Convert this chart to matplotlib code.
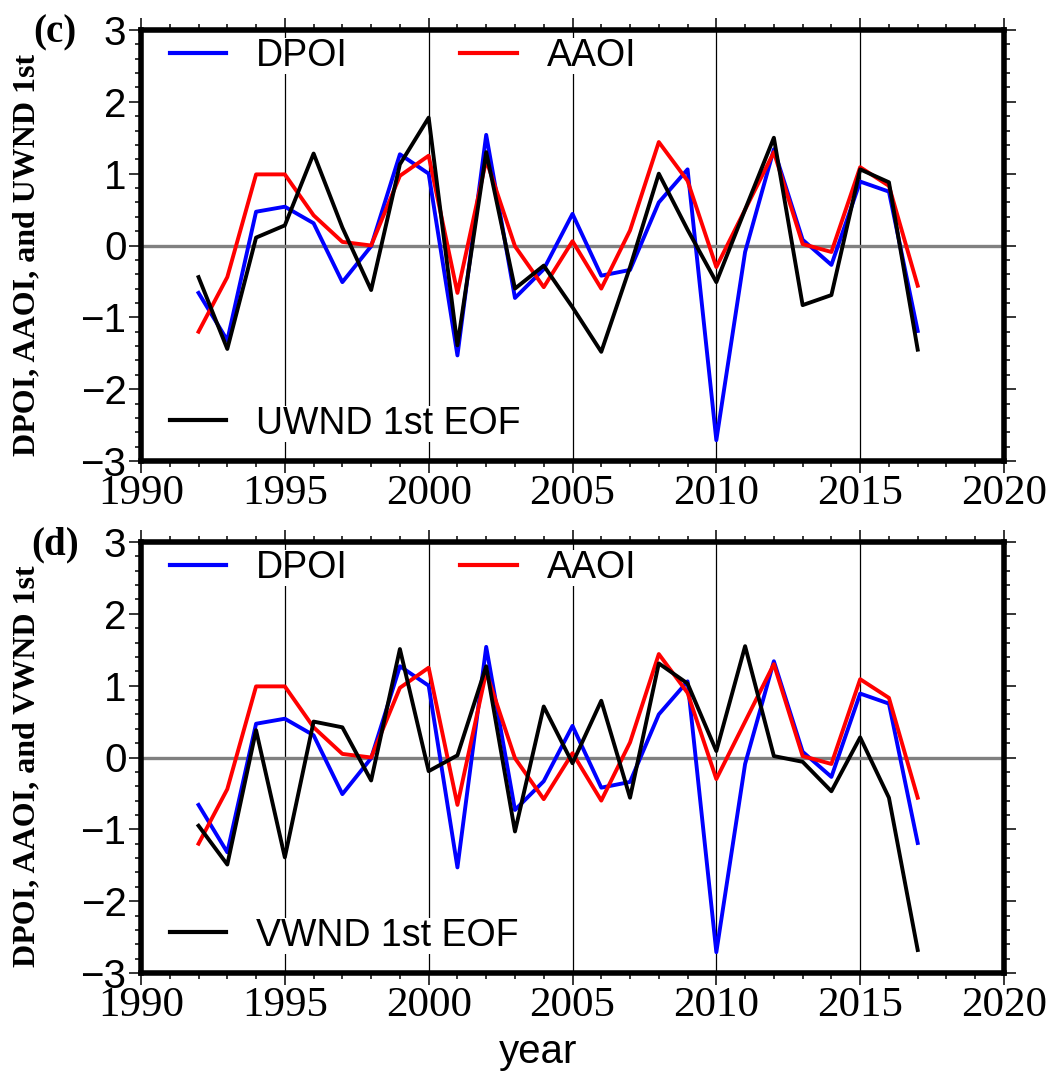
import numpy as np
import matplotlib
matplotlib.use('Agg')
import matplotlib.pyplot as plt
from matplotlib.ticker import MultipleLocator
from matplotlib.lines import Line2D

# yearly index values
years = np.arange(1992, 2018)
dpoi = [-0.66, -1.32, 0.47, 0.54, 0.31, -0.51, -0.01, 1.27, 1.00, -1.53, 1.54, -0.73, -0.33,
        0.44, -0.42, -0.34, 0.60, 1.06, -2.71, -0.09, 1.34, 0.08, -0.27, 0.89, 0.75, -1.19]
aaoi = [-1.20, -0.44, 0.99, 0.99, 0.42, 0.05, 0.00, 0.97, 1.25, -0.66, 1.19, -0.01, -0.58,
        0.06, -0.60, 0.21, 1.44, 0.90, -0.30, 0.50, 1.30, 0.02, -0.09, 1.09, 0.83, -0.56]
uwnd_eof1 = [-0.44, -1.44, 0.11, 0.28, 1.28, 0.25, -0.62, 1.13, 1.78, -1.39, 1.30, -0.60, -0.28,
             -0.86, -1.48, -0.30, 1.00, 0.22, -0.51, 0.50, 1.50, -0.83, -0.69, 1.06, 0.88, -1.45]
vwnd_eof1 = [-0.95, -1.49, 0.38, -1.39, 0.50, 0.42, -0.32, 1.51, -0.19, 0.03, 1.27, -1.03, 0.71,
             -0.08, 0.79, -0.56, 1.31, 1.03, 0.09, 1.55, 0.02, -0.06, -0.47, 0.28, -0.56, -2.68]

xticks = [1990, 1995, 2000, 2005, 2010, 2015, 2020]
yticks = [-3, -2, -1, 0, 1, 2, 3]
ytick_labels = ['\u22123', '\u22122', '\u22121', '0', '1', '2', '3']

panels = [
    ('(c)', uwnd_eof1, 'UWND 1st EOF', 'DPOI, AAOI, and UWND 1st'),
    ('(d)', vwnd_eof1, 'VWND 1st EOF', 'DPOI, AAOI, and VWND 1st'),
]

W, H = 1059, 1079
fig = plt.figure(figsize=(W / 100, H / 100), dpi=100)

# axes boxes in pixels: left, top, right, bottom
boxes = [(141, 30, 1004, 461), (141, 542, 1004, 973)]

for (tag, eof, eof_name, ylab), (l, t, r, b) in zip(panels, boxes):
    ax = fig.add_axes([l / W, 1 - b / H, (r - l) / W, (b - t) / H])

    ax.axhline(0, color='#808080', lw=2.4, zorder=1)
    ax.plot(years, dpoi, color='#0000ff', lw=2.8, zorder=2)
    ax.plot(years, aaoi, color='#ff0000', lw=2.8, zorder=2)
    ax.plot(years, eof, color='black', lw=2.8, zorder=3)

    ax.set_xlim(1990, 2020)
    ax.set_ylim(-3, 3)
    ax.set_xticks(xticks)
    ax.set_yticks(yticks)
    ax.set_yticklabels(ytick_labels)
    ax.xaxis.set_minor_locator(MultipleLocator(1))
    ax.yaxis.set_minor_locator(MultipleLocator(0.2))
    ax.xaxis.grid(True, which='major', color='black', lw=0.9)
    ax.set_axisbelow(True)

    for s in ax.spines.values():
        s.set_linewidth(4)
        s.set_zorder(6)

    ax.tick_params(axis='both', which='both', direction='out', top=True, right=True, width=1.1)
    ax.tick_params(axis='both', which='major', length=8.5)
    ax.tick_params(axis='both', which='minor', length=4)
    ax.tick_params(axis='x', labelsize=31, labelfontfamily='Liberation Serif', pad=1)
    ax.tick_params(axis='y', labelsize=29, labelfontfamily='Liberation Sans', pad=2)

    # legends
    h1 = [Line2D([], [], color='#0000ff', lw=3), Line2D([], [], color='#ff0000', lw=3)]
    leg1 = ax.legend(h1, ['DPOI', 'AAOI'], loc='upper left', bbox_to_anchor=(0.0336, 0.982),
                     ncol=2, frameon=False, borderaxespad=0, borderpad=0,
                     handlelength=1.5, handletextpad=0.8, columnspacing=3.0,
                     prop={'family': 'Liberation Sans', 'size': 27})
    ax.add_artist(leg1)
    leg2 = ax.legend([Line2D([], [], color='black', lw=3)], [eof_name], loc='lower left',
                     bbox_to_anchor=(0.0336, 0.045), frameon=False, borderaxespad=0, borderpad=0,
                     handlelength=1.5, handletextpad=0.8,
                     prop={'family': 'Liberation Sans', 'size': 27})
    for lg in (leg1, leg2):
        lg.set_zorder(5)
        for txt in lg.get_texts():
            txt.set_bbox(dict(facecolor='white', edgecolor='none', pad=0))

    fig.text(27 / W, 1 - ((t + b) / 2 + 9) / H, ylab, rotation=90, ha='center', va='center',
             fontfamily='Liberation Serif', fontweight='bold', fontsize=23)
    fig.text(55 / W, 1 - (t + 3) / H, tag, ha='center', va='center',
             fontfamily='Liberation Serif', fontweight='bold', fontsize=28)

fig.text(538 / W, 1 - 1063 / H, 'year', ha='center', va='baseline',
         fontfamily='Liberation Sans', fontsize=29)

fig.savefig('out.png', dpi=100)
